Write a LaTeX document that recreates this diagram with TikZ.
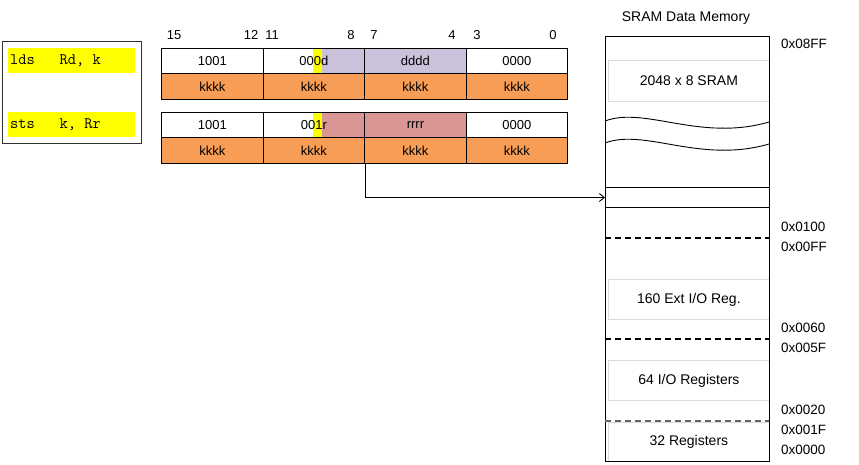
\documentclass[tikz,border=0pt]{standalone}
\usepackage{fontspec}
\setmainfont{Liberation Sans}
\usetikzlibrary{arrows.meta}
\definecolor{kor}{RGB}{247,157,86}
\definecolor{dpur}{RGB}{204,193,218}
\definecolor{rros}{RGB}{217,150,148}
\definecolor{hyel}{RGB}{255,255,0}
\definecolor{lbox}{RGB}{220,220,220}
\begin{document}
\begin{tikzpicture}[x=1pt,y=-1pt,
  cell/.style={draw=black, line width=1.4pt, minimum width=101.5pt, inner sep=0pt, anchor=north west, font=\fontsize{13}{13}\selectfont},
  toprow/.style={cell, minimum height=25pt},
  krow/.style={cell, minimum height=26pt, fill=kor},
  bitnum/.style={font=\fontsize{13}{13}\selectfont, inner sep=0pt},
  asmbar/.style={fill=hyel, anchor=west, minimum height=25pt, text width=123pt, inner xsep=2pt, inner ysep=0pt, align=left, font=\fontsize{16}{16}\ttfamily},
  memtxt/.style={font=\fontsize{14}{14}\selectfont},
  region/.style={draw=lbox, line width=0.8pt, anchor=north west, minimum width=161pt, inner sep=0pt, memtxt},
  addr/.style={anchor=west, inner sep=0pt, font=\fontsize{13.5}{13.5}\selectfont},
  divider/.style={line width=1.2pt, dash pattern=on 6pt off 4pt}
]
\useasboundingbox (0,0) rectangle (859,465);

% instruction list
\node[draw=black!80, line width=0.9pt, minimum width=139pt, minimum height=102pt, anchor=north west, inner sep=0pt] (instr) at (2,41) {};
\node[asmbar] (lds) at (8,60.5) {lds\phantom{xxx}Rd,\phantom{x}k};
\node[asmbar] (sts) at (8,124.5) {sts\phantom{xxx}k,\phantom{x}Rr};

% bit numbers
\node[bitnum] (b15) at (174,35) {15};
\node[bitnum] (b12) at (251,35) {12};
\node[bitnum] (b11) at (272,35) {11};
\node[bitnum] (b8) at (351,35) {8};
\node[bitnum] (b7) at (374,35) {7};
\node[bitnum] (b4) at (452,35) {4};
\node[bitnum] (b3) at (477,35) {3};
\node[bitnum] (b0) at (553,35) {0};

% background fills of partial fields
\fill[hyel] (313,48) rectangle (322,73);
\fill[dpur] (322,48) rectangle (364,73);
\fill[hyel] (313,112) rectangle (322,137);
\fill[rros] (322,112) rectangle (364,137);

% lds encoding
\node[toprow] (a1) at (161,48) {1001};
\node[toprow] (a2) at (262.5,48) {000d};
\node[toprow, fill=dpur] (a3) at (364,48) {dddd};
\node[toprow] (a4) at (465.5,48) {0000};
\node[krow] (ak1) at (161,73) {kkkk};
\node[krow] (ak2) at (262.5,73) {kkkk};
\node[krow] (ak3) at (364,73) {kkkk};
\node[krow] (ak4) at (465.5,73) {kkkk};

% sts encoding
\node[toprow] (s1) at (161,112) {1001};
\node[toprow] (s2) at (262.5,112) {001r};
\node[toprow, fill=rros] (s3) at (364,112) {rrrr};
\node[toprow] (s4) at (465.5,112) {0000};
\node[krow] (sk1) at (161,137) {kkkk};
\node[krow] (sk2) at (262.5,137) {kkkk};
\node[krow] (sk3) at (364,137) {kkkk};
\node[krow] (sk4) at (465.5,137) {kkkk};

% memory
\node[memtxt] (title) at (686,18) {SRAM Data Memory};
\node[region, minimum height=41pt] (sram) at (608,60) {2048 x 8 SRAM};
\node[region, minimum height=40pt] (ext) at (608,279) {160 Ext I/O Reg.};
\node[region, minimum height=40pt] (io) at (608,360) {64 I/O Registers};
\node[region, minimum height=39pt] (regs) at (608,421.5) {32 Registers};
\node[draw=black, line width=0.9pt, minimum width=164pt, minimum height=425pt, anchor=north west, inner sep=0pt] (mem) at (605,36) {};
\draw[black!60, line width=1.3pt, dash pattern=on 6pt off 4pt] (605,421) -- (769,421);
\draw[divider] (605,238) -- (769,238);
\draw[divider] (605,339) -- (769,339);
\draw[line width=0.9pt] (605,121) .. controls (645,106) and (700,142) .. (769,122);
\draw[line width=0.9pt] (605,143) .. controls (645,128) and (700,164) .. (769,144);
\node[draw=black, line width=1pt, minimum width=164pt, minimum height=20pt, anchor=north west, inner sep=0pt] (target) at (605,187) {};

% addresses
\node[addr] (x08ff) at (781,44) {0x08FF};
\node[addr] (x0100) at (781,227) {0x0100};
\node[addr] (x00ff) at (781,247) {0x00FF};
\node[addr] (x0060) at (781,328) {0x0060};
\node[addr] (x005f) at (781,348) {0x005F};
\node[addr] (x0020) at (781,410) {0x0020};
\node[addr] (x001f) at (781,430) {0x001F};
\node[addr] (x0000) at (781,450) {0x0000};

% connector
\draw[line width=0.9pt, -{Straight Barb[length=5pt,width=8pt]}] (sk2.south east) |- (target.west);
\end{tikzpicture}
\end{document}
